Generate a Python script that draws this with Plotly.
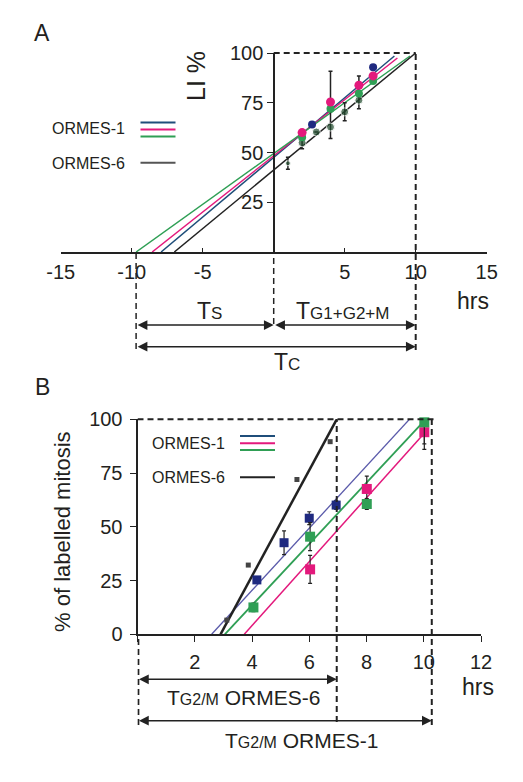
import plotly.graph_objects as go

W, H = 523, 782
FONT = "Liberation Sans, Arial, sans-serif"
TXT = "#231f20"

def px(p):
    return p / W

def py(p):
    return 1 - p / H

# ---------------- Panel A data ----------------
A_xticks = [-15, -10, -5, 0, 5, 10, 15]
A_xticklabels = ["-15", "-10", "-5", "", "5", "10", "15"]
A_yticks = [25, 50, 75, 100]

# regression lines (ORMES-1 blue, pink, green; ORMES-6 black)
A_line_x0 = [-7.93, -8.56, -9.69, -7.0]
A_line_x1 = [8.5, 8.71, 9.6, 10.0]
A_line_y0 = [0, 0, 0, 0]
A_line_y1 = [98.5, 97.5, 98.5, 100]

A_blue_x = [2.7, 7.0]
A_blue_y = [64.1, 92.8]
A_pink_x = [2, 4, 6, 7]
A_pink_y = [60, 75.4, 83.8, 88.5]
A_green_x = [2, 4, 6, 7]
A_green_y = [57.7, 72, 79.6, 85.9]
A_dark_x = [1, 2, 3, 4, 5, 6, 7]
A_dark_y = [44.6, 54.9, 60.3, 62.8, 70.4, 76.3, 87.5]
A_dark_err_plus = [3, 5.7, 0, 28, 4.6, 12.2, 2]
A_dark_err_minus = [3, 3, 0, 5.8, 4.4, 4.3, 2]

# cycle phase markers (hrs)
A_TS = [-9.69, 0.0]
A_TG = [0.0, 10.0]
A_TC = [-9.69, 10.0]

# ---------------- Panel B data ----------------
B_xticks = [0, 2, 4, 6, 8, 10, 12]
B_xticklabels = ["", "2", "4", "6", "8", "10", "12"]
B_yticks = [0, 25, 50, 75, 100]

B_line_x0 = [2.59, 3.73, 3.05, 2.9]
B_line_x1 = [9.5, 10.05, 10.0, 6.96]
B_line_y0 = [0, 0, 0, 0]
B_line_y1 = [100, 94, 99, 100]

B_black_x = [3.12, 3.87, 5.57, 6.73]
B_black_y = [6.6, 32.2, 72, 89.6]
B_blue_x = [4.17, 5.12, 6.0, 6.94]
B_blue_y = [25.3, 42.6, 54, 60.1]
B_blue_err = [1, 5.5, 3, 2]
B_green_x = [4.05, 6.03, 8.01, 10.02]
B_green_y = [12.5, 45.4, 60.6, 98.6]
B_green_err = [2, 6.5, 2.5, 10]
B_pink_x = [6.03, 8.01, 10.02]
B_pink_y = [30.2, 67.6, 94]
B_pink_err = [6.5, 6, 8]

B_T6 = [0.0, 6.96]
B_T1 = [0.0, 10.28]

BLUE = "#1f4e7a"
NAVY = "#1f2a80"
PINK = "#e3197c"
GREEN = "#2f9f55"
DARK = "#1f4a2c"
BLACK = "#222222"
LAV = "#5a5aaa"

fig = go.Figure()

# ---- Panel A lines
A_line_colors = [BLUE, PINK, GREEN, BLACK]
for i in range(4):
    fig.add_trace(go.Scatter(
        x=[A_line_x0[i], A_line_x1[i]], y=[A_line_y0[i], A_line_y1[i]],
        mode="lines", line=dict(color=A_line_colors[i], width=1.5),
        xaxis="x", yaxis="y", showlegend=False, hoverinfo="skip"))

# ---- Panel A points
fig.add_trace(go.Scatter(
    x=A_dark_x, y=A_dark_y, mode="markers",
    marker=dict(color=DARK, size=[5, 8, 8, 8, 8, 8, 8]),
    error_y=dict(type="data", symmetric=False, array=A_dark_err_plus,
                 arrayminus=A_dark_err_minus, color=BLACK, thickness=1.5, width=2),
    xaxis="x", yaxis="y", showlegend=False, cliponaxis=False))
fig.add_trace(go.Scatter(
    x=A_green_x, y=A_green_y, mode="markers",
    marker=dict(color=GREEN, size=8),
    xaxis="x", yaxis="y", showlegend=False, cliponaxis=False))
fig.add_trace(go.Scatter(
    x=A_pink_x, y=A_pink_y, mode="markers",
    marker=dict(color=PINK, size=9),
    xaxis="x", yaxis="y", showlegend=False, cliponaxis=False))
fig.add_trace(go.Scatter(
    x=A_blue_x, y=A_blue_y, mode="markers",
    marker=dict(color=NAVY, size=8),
    xaxis="x", yaxis="y", showlegend=False, cliponaxis=False))

# ---- Panel B lines
B_line_colors = [LAV, PINK, GREEN, BLACK]
B_line_widths = [1.3, 1.5, 1.8, 2.5]
for i in range(4):
    fig.add_trace(go.Scatter(
        x=[B_line_x0[i], B_line_x1[i]], y=[B_line_y0[i], B_line_y1[i]],
        mode="lines", line=dict(color=B_line_colors[i], width=B_line_widths[i]),
        xaxis="x2", yaxis="y2", showlegend=False, hoverinfo="skip"))

# ---- Panel B points
fig.add_trace(go.Scatter(
    x=B_black_x, y=B_black_y, mode="markers",
    marker=dict(color="#444444", size=5, symbol="square"),
    xaxis="x2", yaxis="y2", showlegend=False, cliponaxis=False))
fig.add_trace(go.Scatter(
    x=B_blue_x, y=B_blue_y, mode="markers",
    marker=dict(color=NAVY, size=9, symbol="square"),
    error_y=dict(type="data", array=B_blue_err, color=BLACK, thickness=1.2, width=2),
    xaxis="x2", yaxis="y2", showlegend=False, cliponaxis=False))
fig.add_trace(go.Scatter(
    x=B_pink_x, y=B_pink_y, mode="markers",
    marker=dict(color=PINK, size=10, symbol="square"),
    error_y=dict(type="data", array=B_pink_err, color=BLACK, thickness=1.2, width=2),
    xaxis="x2", yaxis="y2", showlegend=False, cliponaxis=False))
fig.add_trace(go.Scatter(
    x=B_green_x, y=B_green_y, mode="markers",
    marker=dict(color=GREEN, size=10, symbol="square"),
    error_y=dict(type="data", array=B_green_err, color=BLACK, thickness=1.2, width=2),
    xaxis="x2", yaxis="y2", showlegend=False, cliponaxis=False))

DASH = "6px,4px"
shapes = []
# Panel A dashed guides (top line at y=100 = top of axis domain)
shapes.append(dict(type="line", xref="x", yref="y domain", x0=0, x1=A_TC[1], y0=1, y1=1,
                   line=dict(color=BLACK, width=2, dash=DASH)))
shapes.append(dict(type="line", xref="x", yref="paper", x0=A_TC[1], x1=A_TC[1],
                   y0=py(350), y1=py(53), line=dict(color=BLACK, width=2, dash=DASH)))
shapes.append(dict(type="line", xref="x", yref="paper", x0=A_TC[0], x1=A_TC[0],
                   y0=py(349), y1=py(252), line=dict(color=BLACK, width=1.5, dash=DASH)))
shapes.append(dict(type="line", xref="x", yref="paper", x0=0, x1=0,
                   y0=py(324), y1=py(252), line=dict(color=BLACK, width=1.5, dash=DASH)))
# Panel B dashed guides
shapes.append(dict(type="line", xref="x2", yref="y2 domain", x0=0, x1=10.35, y0=1, y1=1,
                   line=dict(color=BLACK, width=2, dash=DASH)))
shapes.append(dict(type="line", xref="x2", yref="paper", x0=B_T6[1], x1=B_T6[1],
                   y0=py(722), y1=py(419), line=dict(color=BLACK, width=2, dash=DASH)))
shapes.append(dict(type="line", xref="x2", yref="paper", x0=B_T1[1], x1=B_T1[1],
                   y0=py(725), y1=py(419), line=dict(color=BLACK, width=2, dash=DASH)))
shapes.append(dict(type="line", xref="x2", yref="paper", x0=0.03, x1=0.03,
                   y0=py(725), y1=py(636), line=dict(color=BLACK, width=2, dash=DASH)))

# custom legends (keys)
for yk, col in [(122.5, BLUE), (129.5, PINK), (136.5, GREEN), (162.7, "#555555")]:
    shapes.append(dict(type="line", xref="paper", yref="paper", x0=px(140.5), x1=px(175.5),
                       y0=py(yk), y1=py(yk), line=dict(color=col, width=2)))
for yk, col in [(436, BLUE), (443.3, PINK), (450, GREEN), (477.3, BLACK)]:
    shapes.append(dict(type="line", xref="paper", yref="paper", x0=px(240), x1=px(275),
                       y0=py(yk), y1=py(yk), line=dict(color=col, width=2)))

annotations = []

def text(xp, yp, s, size, angle=0, xanchor="center"):
    annotations.append(dict(xref="paper", yref="paper", x=px(xp), y=py(yp), text=s,
                            showarrow=False, textangle=angle, xanchor=xanchor, yanchor="middle",
                            font=dict(family=FONT, size=size, color=TXT)))

def arrow(xr, yp, xs):
    annotations.append(dict(xref=xr, yref="paper", x=xs[1], y=py(yp), text="",
                            showarrow=True, axref=xr, ax=xs[0], ayref="pixel", ay=0,
                            arrowhead=2, arrowside="end+start", arrowsize=1.3,
                            arrowwidth=1.5, arrowcolor=BLACK, standoff=0, startstandoff=0))

def small(s, size):
    return "<span style='font-size:%dpx'>%s</span>" % (size, s)

text(42, 33, "A", 23)
text(42, 387, "B", 23)
text(196, 76, "LI %", 25, angle=-90)
text(62, 532, "% of labelled mitosis", 22, angle=-90)
text(127, 128.5, "ORMES-1", 16, xanchor="right")
text(127, 163.5, "ORMES-6", 16, xanchor="right")
text(227, 443.3, "ORMES-1", 16, xanchor="right")
text(227, 477.3, "ORMES-6", 16, xanchor="right")
text(473, 301, "hrs", 23)
text(478, 687, "hrs", 23)
text(209, 311, "T" + small("S", 17), 23)
text(342, 311, "T" + small("G1+G2+M", 17), 23)
text(287, 362, "T" + small("C", 17), 23)
text(243, 697, "T" + small("G2/M", 16) + " ORMES-6", 21)
text(301, 740, "T" + small("G2/M", 16) + " ORMES-1", 21)

arrow("x", 325, A_TS)
arrow("x", 325, A_TG)
arrow("x", 346.7, A_TC)
arrow("x2", 679.3, B_T6)
arrow("x2", 720.7, B_T1)

axis_common = dict(showgrid=False, zeroline=False, showline=True, linecolor=BLACK,
                   automargin=False,
                   tickcolor=BLACK, tickfont=dict(family=FONT, size=20, color=TXT))

fig.update_layout(
    width=W, height=H, autosize=False,
    margin=dict(l=0, r=0, t=0, b=0, pad=0, autoexpand=False),
    paper_bgcolor="white", plot_bgcolor="rgba(0,0,0,0)",
    showlegend=False,
    font=dict(family=FONT, color=TXT),
    xaxis=dict(domain=[px(60.7), px(486.7)], range=[-15, 15], anchor="y",
               tickmode="array", tickvals=A_xticks, ticktext=A_xticklabels,
               ticks="inside", ticklen=4, linewidth=1.5, ticklabelstandoff=1,
               **axis_common),
    yaxis=dict(domain=[py(252), py(53)], range=[0, 100], anchor="free",
               position=px(274.3), side="left",
               tickmode="array", tickvals=A_yticks,
               ticks="outside", ticklen=6, linewidth=2, **axis_common),
    xaxis2=dict(domain=[px(137.5), px(481)], range=[0, 12], anchor="y2",
                tickmode="array", tickvals=B_xticks, ticktext=B_xticklabels,
                ticks="outside", ticklen=6, linewidth=2, ticklabelstandoff=3,
                **axis_common),
    yaxis2=dict(domain=[py(634.3), py(419.3)], range=[0, 100], anchor="x2",
                tickmode="array", tickvals=B_yticks,
                ticks="outside", ticklen=6, linewidth=2, ticklabelstandoff=3,
                **axis_common),
    shapes=shapes,
    annotations=annotations,
)

fig.write_html("out.html",
               config={"displayModeBar": False},
               post_script="document.body.style.margin='0px';document.body.style.overflow='hidden';")
